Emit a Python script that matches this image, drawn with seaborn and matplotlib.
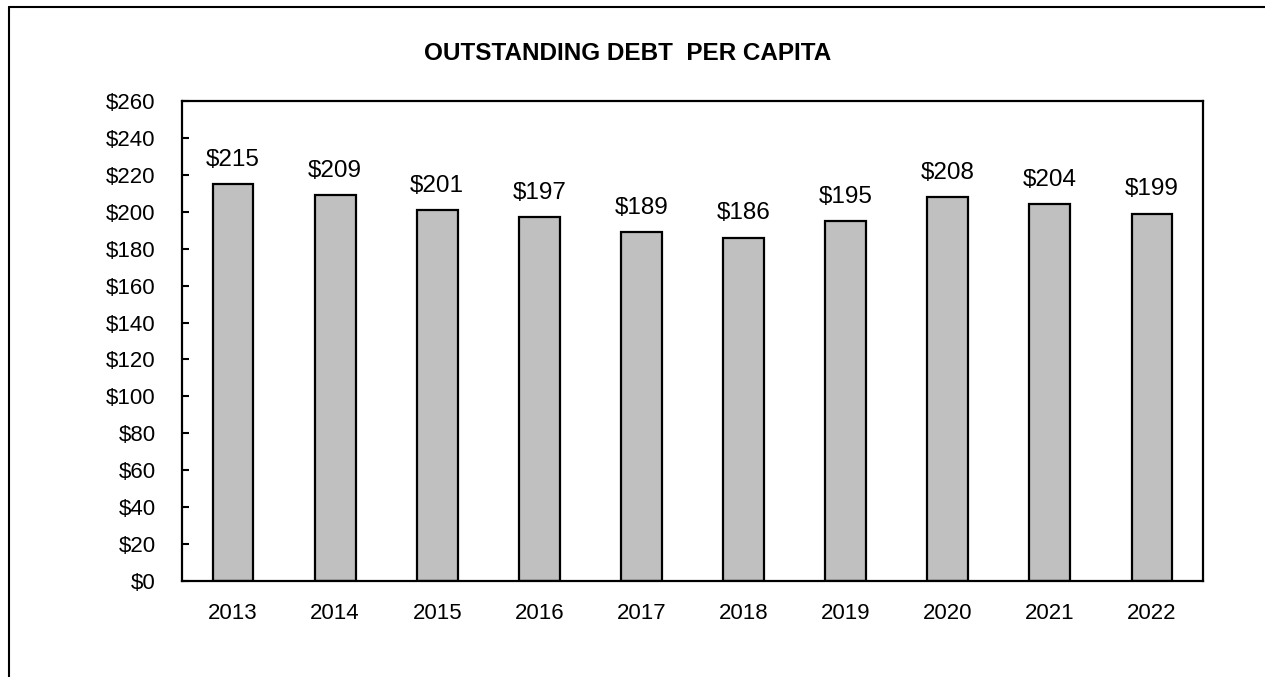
import matplotlib
matplotlib.use("Agg")
import matplotlib.pyplot as plt
import seaborn as sns
import pandas as pd
from matplotlib.lines import Line2D

years = ["2013", "2014", "2015", "2016", "2017", "2018", "2019", "2020", "2021", "2022"]
debt_per_capita = [215, 209, 201, 197, 189, 186, 195, 208, 204, 199]
y_ticks = list(range(0, 261, 20))
title = "OUTSTANDING DEBT  PER CAPITA"

sns.set_style("white")
plt.rcParams["font.family"] = ["Liberation Sans", "DejaVu Sans"]
plt.rcParams["text.color"] = "black"

df = pd.DataFrame({"year": years, "value": debt_per_capita})

fig = plt.figure(figsize=(12.65, 6.77), dpi=100)
ax = fig.add_axes([182 / 1265, 1 - 581 / 677, (1203 - 182) / 1265, (581 - 101) / 677])

sns.barplot(data=df, x="year", y="value", color="#C0C0C0", width=0.4,
            edgecolor="black", linewidth=1.6, saturation=1, ax=ax)

ax.set_xlim(-0.5, len(years) - 0.5)
ax.set_ylim(0, 260)
ax.set_yticks(y_ticks)
ax.set_yticklabels([f"${v}" for v in y_ticks])
ax.set_xlabel("")
ax.set_ylabel("")

for s in ax.spines.values():
    s.set_visible(True)
    s.set_color("black")
    s.set_linewidth(1.6)

ax.tick_params(axis="y", direction="in", length=5, width=1.5, pad=19, labelsize=16, colors="black", left=True)
ax.tick_params(axis="x", direction="in", length=3, width=1.5, pad=15.5, labelsize=16, colors="black", bottom=True)

ax.bar_label(ax.containers[0], labels=[f"${v}" for v in debt_per_capita], padding=9.5,
             fontsize=17.5, color="black")

fig.text(628 / 1265, 1 - 54 / 677, title, ha="center", va="center", fontsize=17.5,
         fontweight="bold", color="black")

# outer frame (partially visible)
fig.add_artist(Line2D([9 / 1265, 1.0], [1 - 7 / 677, 1 - 7 / 677], color="black", linewidth=1.5, transform=fig.transFigure))
fig.add_artist(Line2D([9 / 1265, 9 / 1265], [0, 1 - 7 / 677], color="black", linewidth=1.5, transform=fig.transFigure))

fig.savefig("out.png", dpi=100, facecolor="white")
